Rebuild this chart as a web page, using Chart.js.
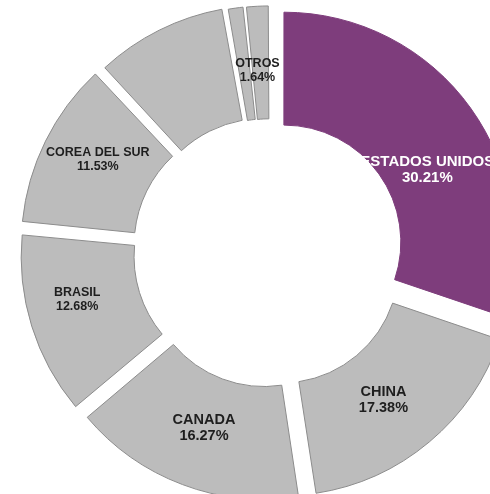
<!DOCTYPE html>
<html>
<head>
<meta charset="utf-8">
<script src="https://cdn.jsdelivr.net/npm/chart.js@4.4.1/dist/chart.umd.min.js"></script>
<style>
	html, body { margin: 0; padding: 0; background: #fff; overflow: hidden; width: 490px; height: 494px; }
	#mycanvas { position: absolute; left: -30px; top: -48px; }
</style>
</head>
<body>
<canvas id="mycanvas" width="600" height="600"></canvas>
<script>
// data
var paises = ["ESTADOS UNIDOS", "CHINA", "CANADA", "BRASIL", "COREA DEL SUR", "", "", "OTROS"];
var porcentajes = [30.21, 17.38, 16.27, 12.68, 11.53, 9.11, 1.18, 1.64];

// styles
var colores = ["#7e3d7c", "#bcbcbc", "#bcbcbc", "#bcbcbc", "#bcbcbc", "#bcbcbc", "#bcbcbc", "#bcbcbc"];
var bordes = ["#7e3d7c", "#8c8c8c", "#8c8c8c", "#8c8c8c", "#8c8c8c", "#8c8c8c", "#8c8c8c", "#8c8c8c"];
var desplaz = [68, 68, 68, 64, 64, 52, 36, 36];
var tamLetra = [15, 14.5, 14.5, 12.5, 12.5, 12, 12, 12.5];
var colorTexto = ["#ffffff", "#1e1e1e", "#1e1e1e", "#1e1e1e", "#1e1e1e", "#1e1e1e", "#1e1e1e", "#1e1e1e"];
// small nudges of the label position (degrees, px)
var ajusteAng = [8, 2.5, 0, 3.5, 2, 0, 0, -1];
var ajusteRad = [-12, -3, -2, 10, 7, 0, 0, 0];

var etiquetas = {
	id: 'etiquetas',
	afterDatasetsDraw: function(chart) {
		var ctx = chart.ctx;
		var meta = chart.getDatasetMeta(0);
		ctx.save();
		ctx.textAlign = 'center';
		ctx.textBaseline = 'middle';
		for (var i = 0; i < meta.data.length; i++) {
			if (!paises[i]) continue;
			var p = meta.data[i].getProps(['x', 'y', 'startAngle', 'endAngle', 'innerRadius', 'outerRadius'], true);
			var a = (p.startAngle + p.endAngle) / 2 + ajusteAng[i] * Math.PI / 180;
			var rad = (p.innerRadius + p.outerRadius) / 2 + desplaz[i] / 4 + ajusteRad[i];
			var x = p.x + Math.cos(a) * rad;
			var y = p.y + Math.sin(a) * rad;
			var fs = tamLetra[i];
			ctx.font = 'bold ' + fs + 'px "Liberation Sans", Arial, sans-serif';
			ctx.fillStyle = colorTexto[i];
			ctx.fillText(paises[i], x, y - fs * 0.55);
			ctx.fillText(porcentajes[i].toFixed(2) + '%', x, y + fs * 0.55);
		}
		ctx.restore();
	}
};

var ctx = document.getElementById('mycanvas');

var grafico = new Chart(ctx, {
	type: 'doughnut',
	data: {
		labels: paises,
		datasets: [{
			data: porcentajes,
			backgroundColor: colores,
			borderColor: bordes,
			borderWidth: 1,
			offset: desplaz
		}]
	},
	options: {
		responsive: false,
		animation: false,
		radius: 229,
		cutout: '50.7%',
		events: [],
		plugins: {
			legend: { display: false },
			tooltip: { enabled: false }
		}
	},
	plugins: [etiquetas]
});
</script>
</body>
</html>
